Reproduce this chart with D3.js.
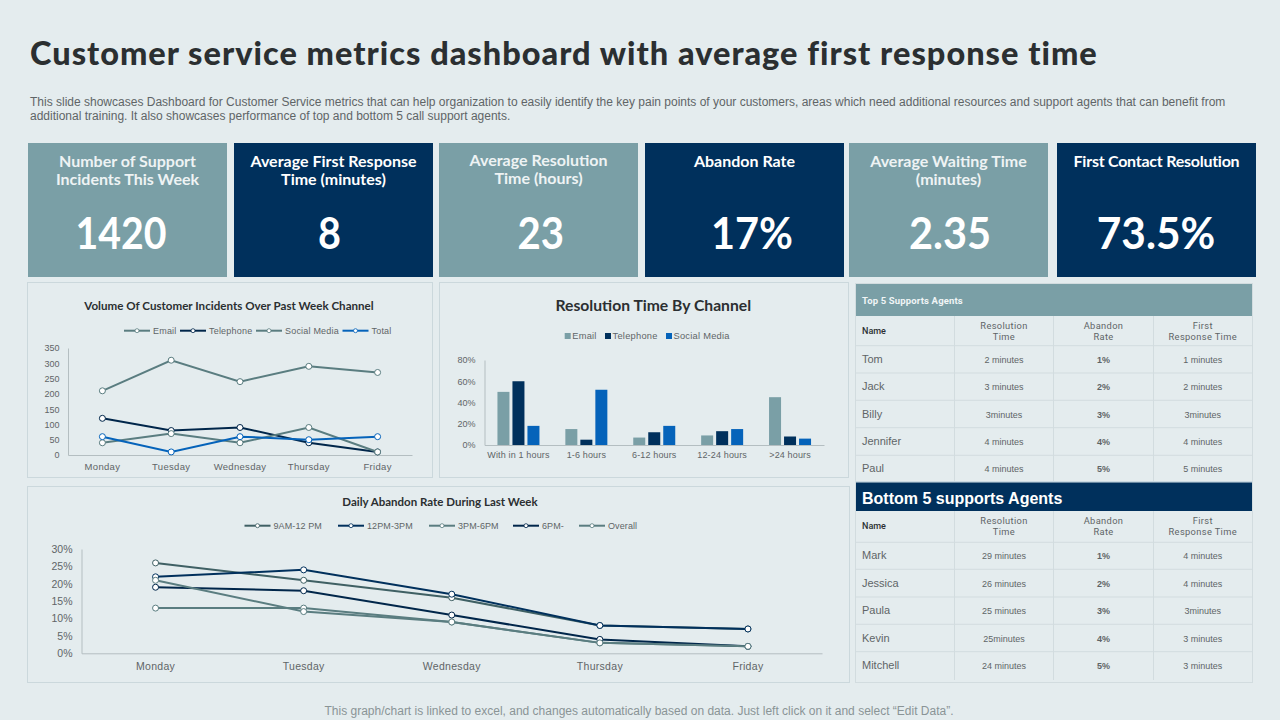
<!DOCTYPE html>
<html>
<head>
<meta charset="utf-8">
<title>Customer service metrics dashboard</title>
<script src="https://cdn.jsdelivr.net/npm/d3@7/dist/d3.min.js"></script>
<style>
html, body { margin: 0; padding: 0; background: #e4ecee; overflow: hidden; }
svg { display: block; }
text { font-family: "Liberation Sans", Arial, sans-serif; }
</style>
</head>
<body>
<script>
// data
var days = ["Monday", "Tuesday", "Wednesday", "Thursday", "Friday"];

var kpiTitles = [["Number of Support", "Incidents This Week"], ["Average First Response", "Time (minutes)"], ["Average Resolution", "Time (hours)"], ["Abandon Rate"], ["Average Waiting Time", "(minutes)"], ["First Contact Resolution"]];
var kpiValues = ["1420", "8", "23", "17%", "2.35", "73.5%"];

var volumeNames = ["Email", "Telephone", "Social Media", "Total"];
var volumeEmail = [210, 310, 240, 290, 270];
var volumeTelephone = [120, 80, 90, 40, 10];
var volumeSocial = [40, 70, 40, 90, 10];
var volumeTotal = [60, 10, 60, 50, 60];
var volumeTicks = [0, 50, 100, 150, 200, 250, 300, 350];

var resolutionCats = ["With in 1 hours", "1-6 hours", "6-12 hours", "12-24 hours", ">24 hours"];
var resolutionNames = ["Email", "Telephone", "Social Media"];
var resolutionEmail = [50, 15, 7, 9, 45];
var resolutionTelephone = [60, 5, 12, 13, 8];
var resolutionSocial = [18, 52, 18, 15, 6];
var resolutionTicks = [0, 20, 40, 60, 80];

var abandonNames = ["9AM-12 PM", "12PM-3PM", "3PM-6PM", "6PM-", "Overall"];
var abandon9 = [26, 21, 16, 8, 7];
var abandon12 = [22, 24, 17, 8, 7];
var abandon3 = [13, 13, 9, 3, 2];
var abandon6 = [19, 18, 11, 4, 2];
var abandonOverall = [21, 12, 9, 3, 2];
var abandonTicks = [0, 5, 10, 15, 20, 25, 30];

var tableHead = [["Name"], ["Resolution", "Time"], ["Abandon", "Rate"], ["First", "Response Time"]];
var topRows = [["Tom", "2 minutes", "1%", "1 minutes"], ["Jack", "3 minutes", "2%", "2 minutes"], ["Billy", "3minutes", "3%", "3minutes"], ["Jennifer", "4 minutes", "4%", "4 minutes"], ["Paul", "4 minutes", "5%", "5 minutes"]];
var bottomRows = [["Mark", "29 minutes", "1%", "4 minutes"], ["Jessica", "26 minutes", "2%", "4 minutes"], ["Paula", "25 minutes", "3%", "3minutes"], ["Kevin", "25minutes", "4%", "3 minutes"], ["Mitchell", "24 minutes", "5%", "3 minutes"]];

var teal = "#7a9fa6", navy = "#00305c", blue = "#0563ba", slate = "#5a7d80", grey = "#5f6567", dark = "#2b2f31";
var titleFont = "Lato, sans-serif", tableFont = "Roboto, sans-serif";

var svg = d3.select("body").append("svg")
    .attr("width", 1280)
    .attr("height", 720);

svg.append("rect").attr("width", 1280).attr("height", 720).attr("fill", "#e4ecee");

//Title
svg.append("text")
    .attr("x", 30).attr("y", 65)
    .attr("font-weight", 900)
    .attr("font-size", 32.5).attr("letter-spacing", 1.01)
    .attr("fill", dark)
    .style("font-family", titleFont)
    .text("Customer service metrics dashboard with average first response time");

//Intro lines
var intro = ["This slide showcases Dashboard for Customer Service metrics that can help organization to easily identify the key pain points of your customers, areas which need additional resources and support agents that can benefit from",
  "additional training. It also showcases performance of top and bottom 5 call support agents."];
svg.selectAll(".intro").data(intro).enter().append("text")
    .attr("class", "intro")
    .attr("x", 30)
    .attr("y", function(d, i) { return 106 + i * 14; })
    .attr("font-size", 12).attr("fill", grey)
    .text(function(d) { return d; });

//KPI cards
var cardX = [28, 234, 439, 645, 849, 1057];
var cardTitleDy = [0, 0, -1, 0, 0, 0];
var cardTitleSpacing = [0, 0, 0, 0, 0, -0.25];
var valueCenter = [121, 329.6, 540.7, 752, 950, 1156];
var valueWidth = [91, 23, 46.5, 82, 82, 118.5];
var cards = svg.selectAll(".card").data(kpiValues).enter().append("g")
    .attr("class", "card")
    .attr("transform", function(d, i) { return "translate(" + cardX[i] + ",143)"; });
cards.append("rect")
    .attr("width", 199).attr("height", 134)
    .attr("fill", function(d, i) { return i % 2 ? navy : teal; });
cards.each(function(d, i) {
  d3.select(this).selectAll(".kpiTitle").data(kpiTitles[i]).enter().append("text")
      .attr("x", 99.5)
      .attr("y", function(t, j) { return 24 + cardTitleDy[i] + j * 18; })
      .attr("text-anchor", "middle")
      .attr("font-size", 16).attr("font-weight", 700)
      .attr("letter-spacing", cardTitleSpacing[i])
      .attr("fill", i % 2 ? "#ffffff" : "#eef3f4")
      .style("font-family", titleFont)
      .text(function(t) { return t; });
});
cards.append("text")
    .attr("x", function(d, i) { return valueCenter[i] - cardX[i]; })
    .attr("y", 105.5)
    .attr("text-anchor", "middle")
    .attr("font-size", 44).attr("font-weight", 700)
    .attr("textLength", function(d, i) { return valueWidth[i]; })
    .attr("lengthAdjust", "spacingAndGlyphs")
    .attr("fill", "#ffffff")
    .style("font-family", titleFont)
    .text(function(d) { return d; });

//Panel helper
function panel(x, y, w, h) {
  svg.append("rect")
      .attr("x", x + 0.5).attr("y", y + 0.5).attr("width", w).attr("height", h)
      .attr("fill", "#e4ecee").attr("stroke", "#cbd8dc").attr("stroke-width", 1);
}

function chartTitle(x, y, size, txt) {
  svg.append("text")
      .attr("x", x).attr("y", y).attr("text-anchor", "middle")
      .attr("font-size", size).attr("font-weight", 700).attr("fill", dark)
      .style("font-family", titleFont)
      .text(txt);
}

function styleAxis(g, size, spacing) {
  g.selectAll("text").attr("font-size", size).attr("fill", grey)
      .attr("letter-spacing", spacing || 0)
      .style("font-family", "'Liberation Sans', Arial, sans-serif");
  g.selectAll(".tick line").remove();
  g.select(".domain").attr("stroke", "#b4bec1");
}

function lineChart(opts) {
  var x = d3.scaleBand().domain(days).range([opts.left, opts.right]);
  var y = d3.scaleLinear().domain(opts.domain).range([opts.bottom, opts.top]);

  var yAxis = svg.append("g").attr("transform", "translate(" + opts.left + ",0)")
      .call(d3.axisLeft(y).tickValues(opts.ticks).tickSize(0).tickPadding(opts.pad).tickFormat(opts.format));
  styleAxis(yAxis, opts.size);
  var xAxis = svg.append("g").attr("transform", "translate(0," + opts.bottom + ")")
      .call(d3.axisBottom(x).tickSize(0).tickPadding(opts.xpad));
  styleAxis(xAxis, opts.xsize, 0.3);

  var line = d3.line()
      .x(function(d, i) { return x(days[i]) + x.bandwidth() / 2; })
      .y(function(d) { return y(d); });

  opts.series.forEach(function(s) {
    svg.append("path").datum(s.values)
        .attr("fill", "none").attr("stroke", s.color).attr("stroke-width", 2)
        .attr("d", line);
    svg.selectAll(null).data(s.values).enter().append("circle")
        .attr("cx", function(d, i) { return x(days[i]) + x.bandwidth() / 2; })
        .attr("cy", function(d) { return y(d); })
        .attr("r", 3)
        .attr("fill", "#ffffff").attr("stroke", s.color).attr("stroke-width", 1);
  });

  //legend
  opts.series.forEach(function(s, i) {
    var lx = opts.legendX[i];
    svg.append("line")
        .attr("x1", lx).attr("x2", lx + 26)
        .attr("y1", opts.legendY).attr("y2", opts.legendY)
        .attr("stroke", s.color).attr("stroke-width", 2);
    svg.append("circle")
        .attr("cx", lx + 13).attr("cy", opts.legendY).attr("r", 2)
        .attr("fill", "#ffffff").attr("stroke", s.color).attr("stroke-width", 0.8);
    svg.append("text")
        .attr("x", lx + 29).attr("y", opts.legendY + 3)
        .attr("font-size", 9).attr("letter-spacing", opts.legendSpacing).attr("fill", grey)
        .text(s.name);
  });
}

//Volume chart
panel(27, 282, 405, 195);
chartTitle(229, 310, 11.6, "Volume Of Customer Incidents Over Past Week Channel");
lineChart({
  left: 68, right: 412, top: 348, bottom: 455,
  domain: [0, 350], ticks: volumeTicks, size: 9, xsize: 9.5, pad: 8.5, xpad: 8,
  format: function(d) { return d; },
  legendX: [124, 180, 256, 342.5], legendY: 330.7, legendSpacing: 0.2,
  series: [
    {name: volumeNames[0], values: volumeEmail, color: slate},
    {name: volumeNames[1], values: volumeTelephone, color: "#00264a"},
    {name: volumeNames[2], values: volumeSocial, color: slate},
    {name: volumeNames[3], values: volumeTotal, color: blue}
  ]
});

//Resolution bars
panel(439, 282, 409, 195);
chartTitle(653.3, 311, 15.7, "Resolution Time By Channel");
var barX = d3.scaleBand().domain(resolutionCats).range([484.5, 824]);
var barY = d3.scaleLinear().domain([0, 80]).range([445, 360]);
var yBar = svg.append("g").attr("transform", "translate(484.5,0)")
    .call(d3.axisLeft(barY).tickValues(resolutionTicks).tickSize(0).tickPadding(9).tickFormat(function(d) { return d + "%"; }));
styleAxis(yBar, 9);
var xBar = svg.append("g").attr("transform", "translate(0,445)")
    .call(d3.axisBottom(barX).tickSize(0).tickPadding(7));
styleAxis(xBar, 9, 0.15);

var resolutionSeries = [resolutionEmail, resolutionTelephone, resolutionSocial];
var barColors = [teal, navy, blue];
var inner = d3.scaleBand().domain([0, 1, 2]).range([-22.5, 22.5]).paddingInner(0.2).paddingOuter(0.1);
resolutionSeries.forEach(function(vals, k) {
  svg.selectAll(null).data(vals).enter().append("rect")
      .attr("x", function(d, i) { return barX(resolutionCats[i]) + barX.bandwidth() / 2 + inner(k); })
      .attr("y", function(d) { return barY(d); })
      .attr("width", inner.bandwidth())
      .attr("height", function(d) { return 445 - barY(d); })
      .attr("fill", barColors[k]);
});
var barLegendX = [564.7, 605, 666];
resolutionNames.forEach(function(n, i) {
  svg.append("rect").attr("x", barLegendX[i]).attr("y", 333).attr("width", 6).attr("height", 6).attr("fill", barColors[i]);
  svg.append("text").attr("x", barLegendX[i] + 7.5).attr("y", 339)
      .attr("font-size", 9.3).attr("letter-spacing", 0.25).attr("fill", grey).text(n);
});

//Abandon chart
panel(27, 486, 822, 196);
chartTitle(440, 506, 11.5, "Daily Abandon Rate During Last Week");
lineChart({
  left: 81.5, right: 822, top: 549, bottom: 653.3,
  domain: [0, 30], ticks: abandonTicks, size: 10.5, xsize: 10.5, pad: 9, xpad: 9,
  format: function(d) { return d + "%"; },
  legendX: [244.5, 338, 429, 513, 579], legendY: 525.7, legendSpacing: 0.1,
  series: [
    {name: abandonNames[0], values: abandon9, color: "#3f6064"},
    {name: abandonNames[1], values: abandon12, color: navy},
    {name: abandonNames[2], values: abandon3, color: slate},
    {name: abandonNames[3], values: abandon6, color: "#00264a"},
    {name: abandonNames[4], values: abandonOverall, color: slate}
  ]
});

//Tables
var colX = [856, 954.5, 1053.5, 1153.5, 1252];
function agentTable(y0, colEnd, rows, rowY, lineY) {
  var lineColor = "#d2dcdf";
  tableHead.forEach(function(lines, c) {
    lines.forEach(function(t, j) {
      svg.append("text")
          .attr("x", c ? (colX[c] + colX[c + 1]) / 2 : 862)
          .attr("y", c ? y0 + 13 + j * 11 : y0 + 18)
          .attr("text-anchor", c ? "middle" : "start")
          .attr("font-size", c ? 9.3 : 9).attr("font-weight", c ? 400 : 500)
          .attr("letter-spacing", c ? 0.35 : 0)
          .attr("fill", c ? grey : dark)
          .style("font-family", tableFont)
          .text(t);
    });
  });
  rows.forEach(function(r, i) {
    svg.append("line").attr("x1", colX[0]).attr("x2", colX[4])
        .attr("y1", lineY[i]).attr("y2", lineY[i])
        .attr("stroke", lineColor);
    r.forEach(function(t, c) {
      svg.append("text")
          .attr("x", c ? (colX[c] + colX[c + 1]) / 2 : 862)
          .attr("y", rowY[i] + (c ? 3.7 : 4))
          .attr("text-anchor", c ? "middle" : "start")
          .attr("font-size", c ? 9 : 11)
          .attr("font-weight", c === 2 ? 700 : 400)
          .attr("fill", grey)
          .text(t);
    });
  });
  [1, 2, 3].forEach(function(c) {
    svg.append("line").attr("x1", colX[c]).attr("x2", colX[c])
        .attr("y1", y0).attr("y2", colEnd)
        .attr("stroke", lineColor);
  });
}

svg.append("rect").attr("x", 855.5).attr("y", 283.5).attr("width", 397).attr("height", 399)
    .attr("fill", "none").attr("stroke", "#d2dcdf");
svg.append("rect").attr("x", 856).attr("y", 284).attr("width", 396).attr("height", 32).attr("fill", teal);
svg.append("text").attr("x", 862).attr("y", 304)
    .attr("font-size", 9.5).attr("font-weight", 700).attr("letter-spacing", 0.15).attr("fill", "#f0f5f6")
    .style("font-family", tableFont)
    .text("Top 5 Supports Agents");
agentTable(316, 482, topRows, [359, 386, 414, 441, 468], [345.7, 373, 400.3, 427.7, 455.3]);

svg.append("rect").attr("x", 856).attr("y", 481).attr("width", 396).attr("height", 1.5).attr("fill", "#c9d9e2");
svg.append("rect").attr("x", 856).attr("y", 482.5).attr("width", 396).attr("height", 28.5).attr("fill", navy);
svg.append("text").attr("x", 862).attr("y", 504)
    .attr("font-size", 16).attr("font-weight", 700).attr("fill", "#ffffff")
    .text("Bottom 5 supports Agents");
agentTable(511, 680, bottomRows, [555, 583, 610, 638, 665], [542.3, 569.3, 597, 624.3, 651.7]);

//Footer
svg.append("text")
    .attr("x", 639).attr("y", 715).attr("text-anchor", "middle")
    .attr("font-size", 12).attr("fill", "#8a9496")
    .text("This graph/chart is linked to excel, and changes automatically based on data. Just left click on it and select \u201CEdit Data\u201D.");
</script>
</body>
</html>
